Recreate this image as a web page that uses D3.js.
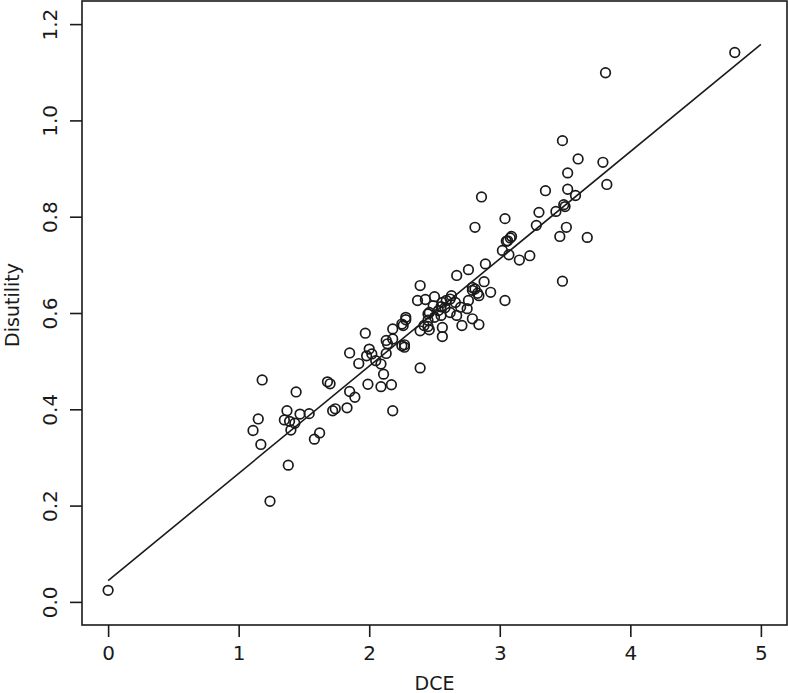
<!DOCTYPE html>
<html>
<head>
<meta charset="utf-8">
<script src="https://cdn.jsdelivr.net/npm/d3@7"></script>
<style>
  body { margin: 0; background: #fff; }
  svg { display: block; }
</style>
</head>
<body>
<div id="container"></div>
<script>
let width = 788
let height = 693

// plot box edges (R style, 4% padding around the data range)
margin = ({ top: 1, right: 1, bottom: 68, left: 82 })

// DCE values (x) and Disutility values (y)
const dce = [
  0.00, 1.24, 1.38, 1.18, 1.44, 1.15, 1.11, 1.17, 1.37, 1.35,
  1.39, 1.43, 1.40, 1.47, 1.54, 1.58, 1.62, 1.68, 1.70, 1.72,
  1.74, 1.83, 1.85, 1.89, 1.97, 1.85, 1.92, 2.00, 1.98, 2.02,
  2.05, 2.09, 1.99, 2.11, 2.09, 2.17, 2.18, 2.13, 2.14, 2.18,
  2.18, 2.13, 2.25, 2.27, 2.26, 2.28, 2.28, 2.39, 2.39, 2.39,
  2.37, 2.43, 2.45, 2.46, 2.46, 2.50, 2.50, 2.55, 2.56, 2.56,
  2.53, 2.55, 2.58, 2.56, 2.59, 2.62, 2.63, 2.62, 2.66, 2.67,
  2.71, 2.75, 2.76, 2.79, 2.84, 2.84, 2.81, 2.79, 2.93, 2.88,
  2.67, 2.76, 2.89, 3.04, 2.81, 2.86, 3.02, 3.07, 3.15, 3.23,
  3.05, 3.06, 3.08, 3.09, 3.04, 3.28, 3.30, 3.35, 3.43, 3.49,
  3.50, 3.46, 3.51, 3.48, 3.67, 3.52, 3.58, 3.52, 3.60, 3.48,
  3.79, 3.82, 3.81, 4.80, 2.25, 2.27, 2.45, 2.83, 2.49, 2.45,
  2.42, 2.70, 2.79
]
const disutility = [
  0.024, 0.209, 0.284, 0.461, 0.436, 0.380, 0.356, 0.327, 0.397, 0.378,
  0.375, 0.371, 0.357, 0.390, 0.391, 0.338, 0.351, 0.457, 0.453, 0.397,
  0.401, 0.403, 0.437, 0.425, 0.558, 0.517, 0.495, 0.525, 0.511, 0.515,
  0.501, 0.494, 0.452, 0.473, 0.447, 0.451, 0.397, 0.543, 0.536, 0.567,
  0.546, 0.516, 0.532, 0.529, 0.574, 0.591, 0.586, 0.486, 0.563, 0.657,
  0.626, 0.628, 0.572, 0.565, 0.601, 0.591, 0.634, 0.595, 0.570, 0.551,
  0.605, 0.613, 0.611, 0.622, 0.626, 0.601, 0.636, 0.629, 0.622, 0.595,
  0.574, 0.609, 0.626, 0.588, 0.576, 0.636, 0.650, 0.647, 0.643, 0.665,
  0.678, 0.690, 0.702, 0.626, 0.778, 0.841, 0.730, 0.721, 0.710, 0.719,
  0.749, 0.750, 0.756, 0.759, 0.796, 0.782, 0.809, 0.854, 0.811, 0.825,
  0.821, 0.759, 0.778, 0.666, 0.757, 0.857, 0.844, 0.891, 0.920, 0.958,
  0.913, 0.867, 1.099, 1.141, 0.577, 0.534, 0.598, 0.641, 0.615, 0.585,
  0.574, 0.612, 0.653
]

// fitted line end points
const fitX = [0, 5]
const fitY = [0.044, 1.158]

const xTicks = [0, 1, 2, 3, 4, 5]
const yTicks = [0.0, 0.2, 0.4, 0.6, 0.8, 1.0, 1.2]

const data = dce.map((d, i) => ({ x: d, y: disutility[i] }))

let x = d3.scaleLinear()
    .domain([-0.2, 5.2])
    .range([margin.left, width - margin.right])

let y = d3.scaleLinear()
    .domain([-0.048, 1.248])
    .range([height - margin.bottom, margin.top])

const font = "DejaVu Sans, Verdana, sans-serif"
const ink = "#1a1a1a"

let svg = d3.select("#container")
    .append("svg")
    .attr("width", width)
    .attr("height", height)
    .attr("viewBox", [0, 0, width, height])

//X Axis
let xAxis = g => g
    .attr("transform", `translate(0,${height - margin.bottom})`)
    .call(d3.axisBottom(x).tickValues(xTicks).tickFormat(d3.format("d")).tickSize(12).tickPadding(9))
    .call(g => g.select(".domain").remove())
    .call(g => g.selectAll(".tick line").attr("stroke", ink).attr("stroke-width", 1.6))
    .call(g => g.selectAll(".tick text")
        .attr("fill", ink)
        .style("font", `20px ${font}`))

//Y Axis
let yAxis = g => g
    .attr("transform", `translate(${margin.left},0)`)
    .call(d3.axisLeft(y).tickValues(yTicks).tickFormat(d3.format(".1f")).tickSize(12))
    .call(g => g.select(".domain").remove())
    .call(g => g.selectAll(".tick line").attr("stroke", ink).attr("stroke-width", 1.6))
    .call(g => g.selectAll(".tick text")
        .attr("x", null)
        .attr("dy", null)
        .attr("fill", ink)
        .attr("text-anchor", "middle")
        .attr("transform", "translate(-25,0) rotate(-90)")
        .style("font", `20px ${font}`))

svg.append("g").call(xAxis)
svg.append("g").call(yAxis)

// box round the plot
svg.append("rect")
    .attr("x", x.range()[0])
    .attr("y", y.range()[1])
    .attr("width", x.range()[1] - x.range()[0])
    .attr("height", y.range()[0] - y.range()[1])
    .attr("fill", "none")
    .attr("stroke", ink)
    .attr("stroke-width", 1.6)

// regression line
svg.append("path")
    .datum(fitX.map((d, i) => [d, fitY[i]]))
    .attr("fill", "none")
    .attr("stroke", ink)
    .attr("stroke-width", 1.6)
    .attr("d", d3.line().x(d => x(d[0])).y(d => y(d[1])))

// points
svg.append("g")
    .selectAll("circle")
    .data(data)
    .join("circle")
    .attr("cx", d => x(d.x))
    .attr("cy", d => y(d.y))
    .attr("r", 4.8)
    .attr("fill", "none")
    .attr("stroke", ink)
    .attr("stroke-width", 1.7)

// axis titles
svg.append("text")
    .attr("x", (x.range()[0] + x.range()[1]) / 2)
    .attr("y", 690)
    .attr("text-anchor", "middle")
    .attr("fill", ink)
    .style("font", `19px ${font}`)
    .text("DCE")

svg.append("text")
    .attr("transform", `translate(19,305) rotate(-90)`)
    .attr("text-anchor", "middle")
    .attr("fill", ink)
    .style("font", `19px ${font}`)
    .text("Disutility")
</script>
</body>
</html>
